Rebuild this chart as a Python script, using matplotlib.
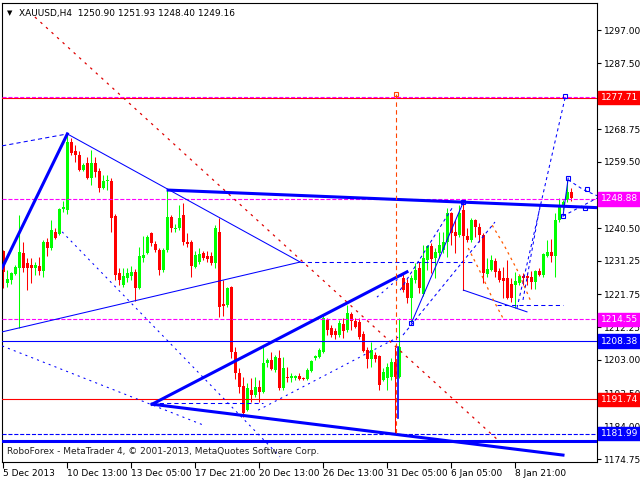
import numpy as np
import matplotlib.pyplot as plt

# XAUUSD H4 candles (oldest first)
opens = [1234.0, 1224.9, 1225.8, 1227.5, 1229.2, 1233.5, 1230.6, 1230.1, 1229.2, 1229.8,
         1228.3, 1236.6, 1234.9, 1239.5, 1238.9, 1246.0, 1245.7, 1265.1, 1262.5, 1261.4,
         1257.1, 1259.1, 1254.8, 1259.1, 1256.8, 1252.0, 1254.0, 1254.0, 1244.0, 1227.8,
         1224.4, 1226.4, 1226.9, 1228.1, 1223.5, 1232.1, 1233.5, 1239.2, 1236.0, 1234.3,
         1228.6, 1234.3, 1243.7, 1240.3, 1240.6, 1244.3, 1236.6, 1236.6, 1229.5, 1230.9,
         1233.5, 1232.6, 1232.6, 1230.6, 1239.5, 1218.9, 1218.7, 1223.8, 1205.3, 1199.3,
         1195.6, 1188.7, 1194.4, 1193.0, 1195.3, 1193.9, 1202.1, 1203.0, 1200.1, 1203.6,
         1195.0, 1198.1, 1197.9, 1197.9, 1198.4, 1197.9, 1197.6, 1199.9, 1203.6, 1203.8,
         1205.3, 1214.4, 1212.1, 1211.2, 1210.1, 1213.2, 1211.5, 1216.1, 1214.1, 1213.8,
         1210.4, 1205.8, 1203.3, 1204.4, 1204.1, 1197.3, 1197.9, 1198.1, 1202.4, 1198.1,
         1226.4, 1224.9, 1220.7, 1225.8, 1229.2, 1221.8, 1231.5, 1235.5, 1232.1, 1233.5,
         1234.3, 1236.6, 1244.9, 1239.5, 1238.6, 1245.7, 1238.3, 1237.2, 1242.9, 1240.9,
         1238.6, 1227.5, 1228.6, 1231.2, 1228.3, 1226.4, 1226.4, 1224.6, 1224.4, 1224.9,
         1226.9, 1226.9, 1226.6, 1225.2, 1228.3, 1227.2, 1232.6, 1233.8, 1232.6, 1242.9,
         1246.6, 1248.6, 1250.90]
highs = [1234.3, 1228.6, 1228.1, 1230.1, 1244.3, 1236.6, 1232.1, 1232.1, 1230.9, 1232.3,
         1237.2, 1237.7, 1242.9, 1240.6, 1246.3, 1248.3, 1267.4, 1266.2, 1264.2, 1262.5,
         1259.1, 1260.8, 1262.8, 1260.8, 1257.7, 1255.7, 1255.7, 1254.8, 1244.6, 1229.2,
         1229.2, 1229.2, 1229.8, 1228.9, 1235.2, 1238.3, 1238.6, 1239.5, 1236.9, 1234.9,
         1234.9, 1251.4, 1244.3, 1241.7, 1247.2, 1247.7, 1239.2, 1237.2, 1234.0, 1234.9,
         1234.0, 1234.0, 1233.8, 1241.4, 1243.4, 1225.8, 1223.8, 1224.1, 1206.7, 1200.7,
         1198.1, 1196.4, 1197.9, 1198.1, 1197.3, 1207.3, 1203.6, 1205.3, 1204.4, 1205.8,
         1203.8, 1201.0, 1199.3, 1198.7, 1199.3, 1198.1, 1200.7, 1203.0, 1204.4, 1206.4,
         1215.8, 1215.0, 1213.0, 1212.1, 1214.4, 1215.0, 1218.7, 1216.7, 1215.0, 1215.0,
         1211.2, 1206.7, 1208.1, 1205.3, 1204.4, 1200.7, 1202.1, 1203.6, 1206.7, 1215.0,
         1227.8, 1226.1, 1227.2, 1230.6, 1230.9, 1235.8, 1235.8, 1236.3, 1234.9, 1239.5,
         1239.5, 1246.3, 1245.2, 1242.9, 1247.2, 1248.0, 1240.6, 1243.4, 1243.2, 1242.0,
         1239.2, 1232.1, 1232.9, 1232.1, 1229.2, 1229.5, 1231.5, 1226.4, 1228.1, 1227.2,
         1227.8, 1227.8, 1228.3, 1228.6, 1229.2, 1233.5, 1237.2, 1237.5, 1244.9, 1249.1,
         1248.6, 1254.3, 1251.93]
lows = [1223.5, 1223.8, 1224.6, 1227.2, 1212.1, 1228.1, 1222.9, 1224.9, 1227.2, 1227.2,
        1226.6, 1232.6, 1234.3, 1237.5, 1238.6, 1245.2, 1244.6, 1261.4, 1259.4, 1256.8,
        1256.8, 1254.6, 1252.8, 1255.1, 1250.9, 1251.7, 1251.4, 1239.5, 1225.8, 1224.4,
        1223.8, 1225.2, 1225.8, 1219.8, 1223.2, 1230.9, 1233.2, 1235.5, 1233.8, 1227.2,
        1228.1, 1233.8, 1239.5, 1239.5, 1240.0, 1235.8, 1235.2, 1226.6, 1229.2, 1230.3,
        1231.5, 1230.9, 1230.1, 1229.2, 1215.2, 1215.5, 1218.1, 1203.6, 1197.6, 1193.6,
        1186.7, 1188.4, 1191.0, 1192.4, 1191.0, 1193.6, 1201.0, 1200.1, 1199.6, 1194.4,
        1194.4, 1196.7, 1196.7, 1197.3, 1197.3, 1197.3, 1197.3, 1199.6, 1203.0, 1203.6,
        1205.0, 1210.1, 1209.5, 1209.0, 1209.5, 1209.3, 1211.0, 1211.5, 1212.1, 1209.0,
        1205.3, 1200.7, 1201.0, 1202.4, 1194.4, 1197.0, 1194.4, 1197.3, 1181.99, 1197.9,
        1222.4, 1219.2, 1213.8, 1224.9, 1222.1, 1221.2, 1228.6, 1227.8, 1226.4, 1232.1,
        1233.5, 1232.3, 1235.8, 1233.5, 1238.0, 1237.7, 1236.6, 1236.6, 1238.0, 1236.6,
        1224.9, 1226.6, 1228.3, 1226.6, 1225.2, 1220.7, 1220.4, 1219.5, 1217.8, 1224.4,
        1224.4, 1224.4, 1223.2, 1223.2, 1226.9, 1226.6, 1232.3, 1230.9, 1226.6, 1242.3,
        1245.7, 1248.0, 1248.40]
closes = [1228.1, 1226.1, 1227.8, 1229.5, 1233.8, 1229.2, 1229.2, 1229.2, 1230.1, 1228.3,
          1236.6, 1234.9, 1240.0, 1237.7, 1246.0, 1246.6, 1265.1, 1262.0, 1261.4, 1257.1,
          1258.5, 1254.8, 1259.1, 1256.5, 1252.0, 1254.0, 1254.3, 1243.4, 1227.2, 1225.8,
          1226.9, 1227.8, 1228.1, 1223.5, 1232.6, 1232.9, 1238.0, 1236.3, 1234.3, 1228.6,
          1234.3, 1243.7, 1240.6, 1240.6, 1243.4, 1236.6, 1236.0, 1229.8, 1232.9, 1233.2,
          1232.1, 1231.8, 1230.6, 1240.6, 1218.1, 1218.4, 1223.5, 1205.3, 1199.3, 1195.3,
          1187.9, 1195.0, 1193.0, 1195.3, 1193.9, 1202.1, 1203.0, 1200.4, 1203.8, 1195.0,
          1200.7, 1197.9, 1198.4, 1198.4, 1197.6, 1197.6, 1200.1, 1202.7, 1204.1, 1205.8,
          1215.0, 1211.5, 1210.1, 1210.1, 1213.5, 1211.2, 1216.4, 1214.1, 1212.4, 1209.5,
          1205.6, 1203.3, 1205.8, 1203.3, 1195.9, 1199.6, 1201.0, 1202.4, 1198.1, 1206.7,
          1222.9, 1220.7, 1226.4, 1228.6, 1223.5, 1232.1, 1235.5, 1231.8, 1233.8, 1235.8,
          1236.6, 1244.9, 1239.2, 1238.3, 1244.9, 1238.3, 1237.2, 1242.9, 1240.9, 1238.6,
          1227.8, 1228.9, 1231.5, 1228.1, 1225.8, 1225.5, 1220.7, 1220.7, 1225.5, 1226.9,
          1226.4, 1226.4, 1225.2, 1228.3, 1227.2, 1233.2, 1233.8, 1232.6, 1242.9, 1246.6,
          1248.0, 1250.9, 1249.16]

date_labels = ['5 Dec 2013', '10 Dec 13:00', '13 Dec 05:00', '17 Dec 21:00', '20 Dec 13:00',
               '26 Dec 13:00', '31 Dec 05:00', '6 Jan 05:00', '8 Jan 21:00']
date_bars = [0, 16, 32, 48, 64, 80, 96, 112, 128]
# 1278.25 and 1250.00 sit under the price boxes, so they get tick marks only
price_ticks = [1297.00, 1287.50, 1278.25, 1268.75, 1259.50, 1250.00, 1240.50, 1231.25,
               1221.75, 1212.25, 1203.00, 1193.50, 1184.00, 1174.75]
hidden_ticks = [1278.25, 1250.00]

# horizontal levels with price boxes
levels = [1277.71, 1248.88, 1214.55, 1208.38, 1191.74, 1181.99]
level_colors = ['#ff0000', '#ff00ff', '#ff00ff', '#0000ff', '#ff0000', '#0000ff']
level_styles = ['-', '--', '--', '-', '-', '--']

# analyst drawings: (bars, prices)
red_diag = ([7.9, 124.2], [1300.7, 1179.6])
thick_up = ([-0.3, 16], [1229.2, 1267.4])
dash_top = ([-0.3, 16], [1264.0, 1267.4])
thin_down = ([16, 74.2], [1267.4, 1230.9])
thin_up = ([-0.3, 74.2], [1211.0, 1230.9])
mid_dash = ([74.2, 117.4], [1230.9, 1230.9])
thick_flat = ([41.2, 148.4], [1251.4, 1246.4])
thick_rise = ([37.2, 100.9], [1190.4, 1228.1])
thick_fall = ([37.2, 139.9], [1190.4, 1175.9])
low_dash = ([37.2, 64.9], [1190.6, 1190.6])
dot_a = ([-0.3, 49.9], [1207.0, 1184.5])
dot_b = ([14.7, 69.2], [1239.5, 1175.4])
dot_c = ([63.7, 98.7], [1188.7, 1209.5])
dot_d = ([93.4, 101.2], [1220.9, 1228.6])
spike_line = ([98.7, 98.7], [1186.5, 1206.7])
jan_leg = ([102.0, 115.0], [1213.5, 1248.0])
jan_dash1 = ([99.2, 112.2], [1222.9, 1246.3])
jan_dash2 = ([99.9, 122.9], [1210.1, 1242.3])
jan_red = ([115.0, 115.0], [1247.2, 1222.9])
jan_base = ([115.0, 130.9], [1222.9, 1216.7])
jan_flat = ([123.4, 139.9], [1218.7, 1218.7])
target_dash = ([128.4, 140.4], [1217.8, 1277.6])
target_dash2 = ([129.9, 134.2], [1220.1, 1247.2])
end_leg = ([139.9, 141.2], [1244.0, 1254.8])
end_dash1 = ([141.2, 145.0, 148.4], [1254.3, 1251.5, 1249.8])
end_dash2 = ([139.9, 148.4], [1244.0, 1249.1])
arc_a = ([116.2, 119.2, 122.2, 124.9], [1234.9, 1228.1, 1220.7, 1214.9])
arc_b = ([122.2, 125.4, 128.7, 131.7], [1241.4, 1235.2, 1228.1, 1220.1])
vline_bar = 98.2
vline_prices = [1182.2, 1278.8]
squares = ([102.0, 115.0, 140.4, 139.9, 141.2, 146.0, 145.5],
           [1213.5, 1248.0, 1278.3, 1244.0, 1254.8, 1251.8, 1246.3])

BLUE = '#0000ff'
fig = plt.figure(figsize=(6.4, 4.8), dpi=100)
ax = fig.add_axes([2/640, 18/480, 595/640, 459/480])

o = np.array(opens); h = np.array(highs); l = np.array(lows); c = np.array(closes)
idx = np.arange(len(o))
cols = np.where(c >= o, '#00ff00', '#ff0000')
ax.vlines(idx, l, h, colors=cols, lw=0.75, zorder=2)
body = np.maximum(np.abs(c - o), 0.2)
ax.bar(idx, body, 0.75, np.minimum(o, c), color=cols, linewidth=0, zorder=2)

for lv, col, ls in zip(levels, level_colors, level_styles):
    ax.axhline(lv, color=col, ls=ls, lw=0.8, zorder=3)
ax.axhline(1278.0, color='#ff00ff', ls='--', lw=0.8, zorder=3)
ax.axhline(1180.0, color=BLUE, lw=2.2, zorder=3)

def draw(line, color=BLUE, lw=0.75, ls='-'):
    ax.plot(line[0], line[1], color=color, lw=lw, ls=ls, zorder=3)

draw(red_diag, '#e00000', 0.9, (0, (2, 4)))
draw(thick_up, lw=2.2)
draw(dash_top, ls=(0, (4, 3)))
draw(thin_down)
draw(thin_up)
draw(mid_dash, ls=(0, (4, 3)))
draw(thick_flat, lw=2.2)
draw(thick_rise, lw=2.2)
draw(thick_fall, lw=2.2)
draw(low_dash, ls=(0, (4, 3)))
for d in (dot_a, dot_b, dot_c, dot_d):
    draw(d, ls=(0, (2, 4)))
draw(spike_line, lw=1.2)
draw(jan_leg)
draw(jan_dash1, ls=(0, (3, 3)))
draw(jan_dash2, ls=(0, (3, 3)))
draw(jan_red, '#ff0000')
draw(jan_base)
draw(jan_flat, ls=(0, (4, 3)))
draw(target_dash, ls=(0, (3, 3)))
draw(target_dash2, ls=(0, (3, 3)))
draw(end_leg)
draw(end_dash1, ls=(0, (3, 3)))
draw(end_dash2, ls=(0, (3, 3)))
draw(arc_a, '#ff5a00', 0.9, (0, (2, 3)))
draw(arc_b, '#ff5a00', 0.9, (0, (2, 3)))
ax.plot([vline_bar, vline_bar], vline_prices, color='#ff4500', lw=0.8, ls=(0, (4, 3)), zorder=3)
ax.plot([vline_bar], [vline_prices[1]], 's', ms=3.5, mfc='none', mec='#ff4500', mew=0.8, zorder=4)
ax.plot(squares[0], squares[1], 's', ms=3.5, mfc='none', mec=BLUE, mew=0.8, zorder=4)

ax.set_xlim(-0.33, 148.4)
ax.set_ylim(1173.93, 1304.7)

ax.yaxis.tick_right()
ax.set_yticks(price_ticks)
ax.set_yticklabels(['' if p in hidden_ticks else '%.2f' % p for p in price_ticks])
ax.tick_params(axis='y', length=3, labelsize=6.5, pad=2, colors='black')
ax.set_xticks(date_bars)
ax.set_xticklabels(date_labels)
ax.tick_params(axis='x', length=4, labelsize=6.5, pad=1)
for t in ax.get_xticklabels():
    t.set_ha('left')
for s in ax.spines.values():
    s.set_linewidth(0.8)

for lv, col in zip(levels, level_colors):
    ax.text(1.006, lv, '%.2f' % lv, transform=ax.get_yaxis_transform(), ha='left', va='center',
            color='white', fontsize=6.5, clip_on=False, zorder=10,
            bbox=dict(boxstyle='square,pad=0.25', fc=col, ec=col))

ax.text(0.008, 0.984, '\u25bc', transform=ax.transAxes, fontsize=5, va='top', ha='left')
ax.text(0.028, 0.988, 'XAUUSD,H4  1250.90 1251.93 1248.40 1249.16', transform=ax.transAxes,
        fontsize=6.5, va='top', ha='left')
ax.text(0.008, 0.012, 'RoboForex - MetaTrader 4, \u00a9 2001-2013, MetaQuotes Software Corp.',
        transform=ax.transAxes, fontsize=6.5, va='bottom', ha='left', color='#222222')

fig.savefig('out.png', dpi=100)
